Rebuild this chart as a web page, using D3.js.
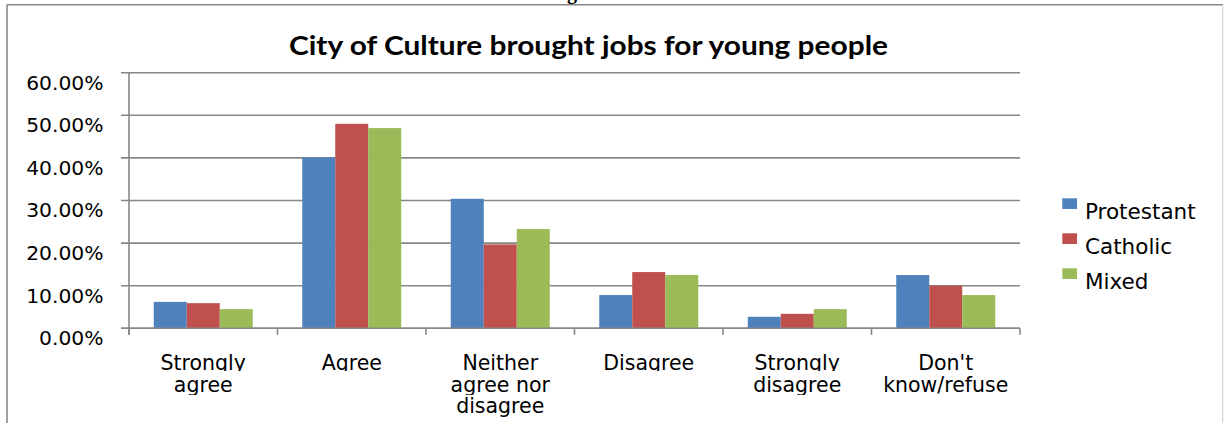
<!DOCTYPE html>
<html>
<head>
<meta charset="utf-8">
<script src="https://cdn.jsdelivr.net/npm/d3@7/dist/d3.min.js"></script>
<style>
  html, body { margin: 0; padding: 0; background: #fff; }
  svg { display: block; }
  text { font-family: "DejaVu Sans", sans-serif; fill: #000; }
</style>
</head>
<body>
<svg id="chart" width="1224" height="423"></svg>
<script>
// Survey responses by community background (percent of respondents)
const categories = ["Strongly agree", "Agree", "Neither agree nor disagree", "Disagree", "Strongly disagree", "Don't know/refuse"];
const categoryLines = [["Strongly", "agree"], ["Agree"], ["Neither", "agree nor", "disagree"], ["Disagree"], ["Strongly", "disagree"], ["Don't", "know/refuse"]];
const seriesNames = ["Protestant", "Catholic", "Mixed"];
const protestant = [6.2, 40.1, 30.4, 7.8, 2.7, 12.5];
const catholic = [5.9, 48.0, 19.7, 13.2, 3.4, 10.0];
const mixed = [4.5, 47.0, 23.3, 12.5, 4.5, 7.8];
const yTicks = [0, 10, 20, 30, 40, 50, 60];
const titleText = "City of Culture brought jobs for young people";

const colors = ["#4F81BD", "#C0504D", "#9BBB59"];
const seriesValues = [protestant, catholic, mixed];
const gridColor = "#878787";

const svg = d3.select("#chart");

// Tail of the page heading above the chart frame
svg.append("text")
  .attr("x", 572).attr("y", -1.5)
  .attr("text-anchor", "middle")
  .style("font-family", "'Liberation Serif', serif")
  .style("font-weight", "bold")
  .style("font-size", "20px")
  .text("g");

// Chart frame
svg.append("line").attr("x1", 7).attr("x2", 1223).attr("y1", 4.7).attr("y2", 4.7)
  .attr("stroke", "#888").attr("stroke-width", 1.6);
svg.append("line").attr("x1", 7).attr("x2", 7).attr("y1", 4.7).attr("y2", 423)
  .attr("stroke", "#888").attr("stroke-width", 1.6);
svg.append("line").attr("x1", 1222.7).attr("x2", 1222.7).attr("y1", 4.7).attr("y2", 423)
  .attr("stroke", "#d4d4d4").attr("stroke-width", 1.2);

// Scales
const x0 = d3.scaleBand().domain(categories).range([129, 1020])
  .paddingInner(1 / 3).paddingOuter(1 / 6);
const x1 = d3.scaleBand().domain(seriesNames).range([0, x0.bandwidth()]);
const y = d3.scaleLinear().domain([0, 60]).range([328.3, 72.7]);

// Horizontal gridlines with small outer ticks
svg.append("g").selectAll("line").data(yTicks).join("line")
  .attr("x1", 121).attr("x2", 1020)
  .attr("y1", d => y(d)).attr("y2", d => y(d))
  .attr("stroke", gridColor).attr("stroke-width", 1.6);

// Y tick labels
svg.append("g").selectAll("text").data(yTicks).join("text")
  .attr("x", 103.5).attr("y", d => y(d) + 16.8)
  .attr("text-anchor", "end")
  .style("font-size", "20.3px")
  .text(d => d3.format(".2f")(d) + "%");

// Bars
const groups = svg.append("g").selectAll("g").data(categories).join("g")
  .attr("transform", d => `translate(${x0(d)},0)`);
groups.selectAll("rect")
  .data((d, i) => seriesNames.map((s, k) => ({ s, v: seriesValues[k][i], k })))
  .join("rect")
  .attr("x", d => x1(d.s))
  .attr("width", x1.bandwidth())
  .attr("y", d => y(d.v))
  .attr("height", d => y(0) - y(d.v))
  .attr("fill", d => colors[d.k]);

// Axis lines
svg.append("line").attr("x1", 129).attr("x2", 129).attr("y1", y(60)).attr("y2", y(0) + 6.5)
  .attr("stroke", gridColor).attr("stroke-width", 1.6);
svg.append("line").attr("x1", 121).attr("x2", 1020).attr("y1", y(0)).attr("y2", y(0))
  .attr("stroke", gridColor).attr("stroke-width", 1.6);
const boundaries = d3.range(categories.length + 1).map(i => 129 + i * x0.step());
svg.append("g").selectAll("line").data(boundaries).join("line")
  .attr("x1", d => d).attr("x2", d => d)
  .attr("y1", y(0)).attr("y2", y(0) + 6.5)
  .attr("stroke", gridColor).attr("stroke-width", 1.6);

// Category labels, each line clipped just below its baseline
const lineBaselines = [370, 391.7, 413];
const lineClipBottoms = [371, 395, 423];
const defs = svg.append("defs");
lineBaselines.forEach((b, j) => {
  defs.append("clipPath").attr("id", "line-clip-" + j)
    .append("rect").attr("x", 0).attr("width", 1224)
    .attr("y", b - 24).attr("height", lineClipBottoms[j] - (b - 24));
});
const labelG = svg.append("g");
categories.forEach((c, i) => {
  const cx = x0(c) + x0.bandwidth() / 2;
  categoryLines[i].forEach((ln, j) => {
    labelG.append("text")
      .attr("x", cx).attr("y", lineBaselines[j])
      .attr("text-anchor", "middle")
      .attr("clip-path", `url(#line-clip-${j})`)
      .style("font-size", "20.5px")
      .text(ln);
  });
});

// Title
svg.append("text")
  .attr("x", 588.5).attr("y", 55)
  .attr("text-anchor", "middle")
  .attr("textLength", 599).attr("lengthAdjust", "spacingAndGlyphs")
  .style("font-family", "Lato, 'Open Sans', sans-serif")
  .style("font-weight", "bold")
  .style("font-size", "27px")
  .text(titleText);

// Legend
const legend = svg.append("g").selectAll("g").data(seriesNames).join("g")
  .attr("transform", (d, i) => `translate(1062.3,${198.3 + i * 35})`);
legend.append("rect").attr("width", 14.7).attr("height", 10.7)
  .attr("fill", (d, i) => colors[i]);
legend.append("text").attr("x", 22.7).attr("y", 21)
  .style("font-size", "21.5px")
  .text(d => d);
</script>
</body>
</html>
